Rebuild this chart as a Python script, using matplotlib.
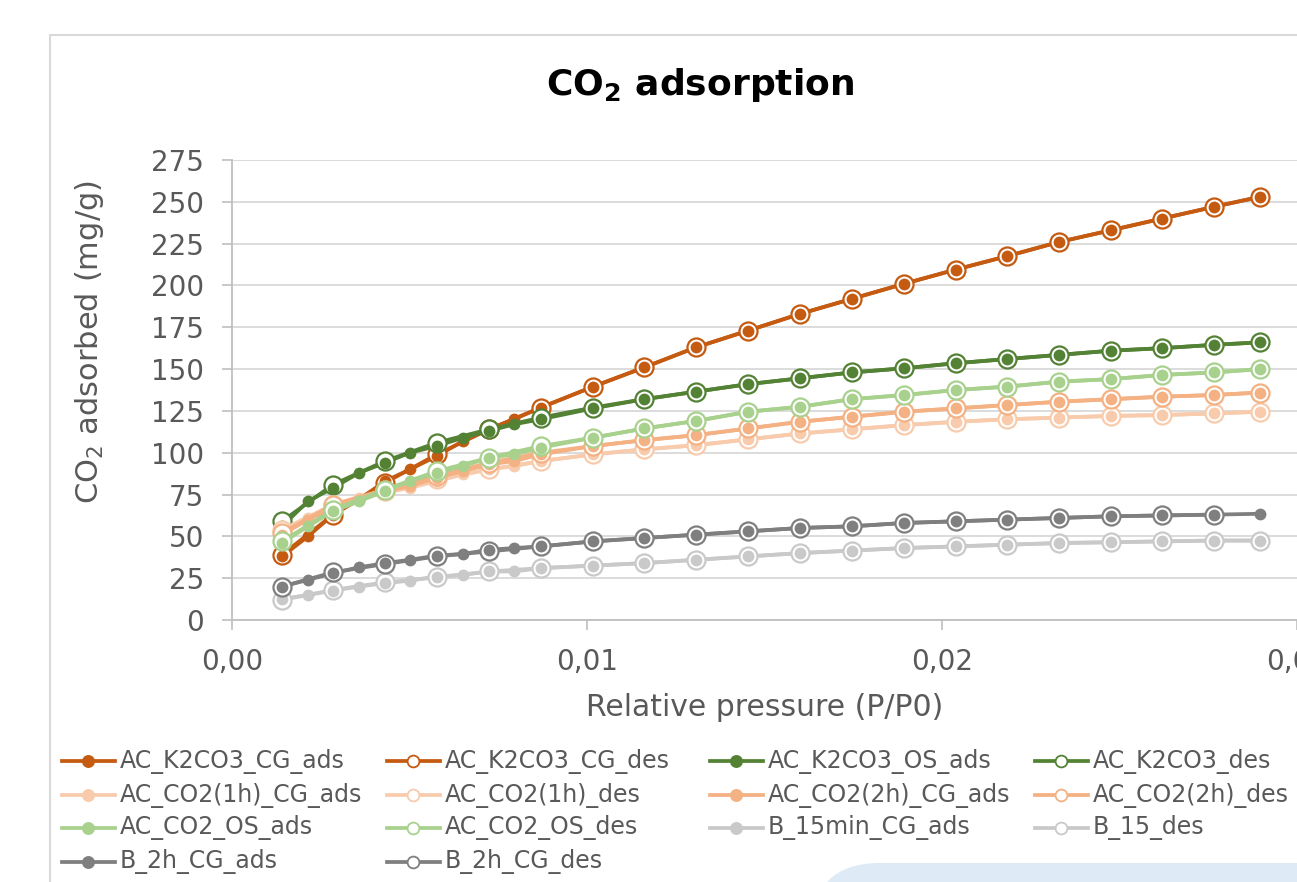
import matplotlib
matplotlib.use("Agg")
import matplotlib.pyplot as plt
from matplotlib.lines import Line2D
from matplotlib.patches import Rectangle, FancyBboxPatch
from matplotlib.ticker import FuncFormatter, MultipleLocator

W, H = 1297, 882
plt.rcParams['font.family'] = ['DejaVu Sans']

# relative pressure (P/P0)
x_ads = [0.00141, 0.00214, 0.00285, 0.00358, 0.00431, 0.00501, 0.00577, 0.00651, 0.00724,
         0.00794, 0.00870, 0.01017, 0.01161, 0.01307, 0.01454, 0.01600, 0.01746, 0.01893,
         0.02039, 0.02183, 0.02330, 0.02476, 0.02620, 0.02766, 0.02896]
x_des = [0.00141, 0.00285, 0.00431, 0.00577, 0.00724, 0.00870, 0.01017, 0.01161, 0.01307,
         0.01454, 0.01600, 0.01746, 0.01893, 0.02039, 0.02183, 0.02330, 0.02476, 0.02620,
         0.02766, 0.02896]

# CO2 adsorbed (mg/g)
k2co3_cg_ads = [38, 50, 63, 72, 83, 90, 98, 107, 114, 120, 127, 139.5, 151, 163, 173, 183,
                192, 201, 209.5, 217.5, 226, 233, 240, 247, 253]
k2co3_cg_des = [39, 63, 82, 99, 114, 127, 139.5, 151, 163, 173, 183, 192, 201, 209.5, 217.5,
                226, 233, 240, 247, 253]
k2co3_os_ads = [56, 71, 79, 88, 94, 100, 104, 109, 113, 117, 120, 126.5, 132, 136.5, 141,
                144.5, 148, 150.5, 153.5, 156, 158.5, 161, 162.5, 164.5, 166]
k2co3_os_des = [59, 81, 95, 106, 114, 121, 127, 132, 136.5, 141, 144.5, 148, 150.5, 153.5,
                156, 158.5, 161, 162.5, 164.5, 166]
co2_1h_ads = [53, 61, 68, 73, 76, 79, 83, 87, 90, 92, 95, 99, 102, 104.5, 108, 111.5, 114,
              116.5, 118.5, 120, 121, 122, 122.5, 123.5, 124.5]
co2_1h_des = [54, 69, 77, 84, 90, 95, 99, 102, 104.5, 108, 111.5, 114, 116.5, 118.5, 120,
              121, 122, 122.5, 123.5, 124.5]
co2_2h_ads = [51, 60, 67, 72, 77, 80, 85, 89, 93, 95, 99, 104, 107.5, 110.5, 114.5, 118.5,
              121.5, 124.5, 126.5, 128.5, 130.5, 132, 133.5, 134.5, 136]
co2_2h_des = [52, 69, 78, 86, 94, 100, 104, 107.5, 110.5, 114.5, 118.5, 121.5, 124.5, 126.5,
              128.5, 130.5, 132, 133.5, 134.5, 136]
co2_os_ads = [46, 56, 65, 71, 77, 83, 88, 92, 97, 99, 103, 109, 114.5, 119, 124.5, 127.5,
              132, 134.5, 137.5, 139.5, 142.5, 144, 146.5, 148, 150]
co2_os_des = [47, 66, 78, 89, 97, 104, 109, 114.5, 119, 124.5, 127.5, 132, 134.5, 137.5,
              139.5, 142.5, 144, 146.5, 148, 150]
b15_ads = [12.5, 15, 17.5, 20, 22, 23.5, 26, 27, 29, 29, 31, 32.5, 34, 36, 38, 40, 41.5, 43,
           44, 45, 46, 46.5, 47, 47.5, 47.5]
b15_des = [12, 18, 22.5, 25.5, 29, 31, 32.5, 34, 36, 38, 40, 41.5, 43, 44, 45, 46, 46.5, 47,
           47.5, 47.5]
b2h_ads = [20, 24, 28, 31.5, 34, 36, 38.5, 39.5, 42, 43, 44, 47, 49, 51, 53, 55, 56, 58, 59,
           60, 61, 62, 62.5, 63, 63.5]
b2h_des = [20, 28.5, 33.5, 38, 41, 44, 47, 49, 51, 53, 55, 56, 58, 59, 60, 61, 62, 62.5, 63]

series = [
    ("AC_K2CO3_CG_ads", "AC_K2CO3_CG_des", "#C55A11", k2co3_cg_ads, k2co3_cg_des),
    ("AC_K2CO3_OS_ads", "AC_K2CO3_des", "#548235", k2co3_os_ads, k2co3_os_des),
    ("AC_CO2(1h)_CG_ads", "AC_CO2(1h)_des", "#F8CBAD", co2_1h_ads, co2_1h_des),
    ("AC_CO2(2h)_CG_ads", "AC_CO2(2h)_des", "#F4B183", co2_2h_ads, co2_2h_des),
    ("AC_CO2_OS_ads", "AC_CO2_OS_des", "#A9D18E", co2_os_ads, co2_os_des),
    ("B_15min_CG_ads", "B_15_des", "#C9C9C9", b15_ads, b15_des),
    ("B_2h_CG_ads", "B_2h_CG_des", "#7F7F7F", b2h_ads, b2h_des),
]

grey_txt = "#595959"
fig = plt.figure(figsize=(W / 100, H / 100), dpi=100)

# chart area border and the blue shape peeking in at the bottom
fig.add_artist(Rectangle((50 / W, -0.1), 1.2, 1.1 - 35 / H, transform=fig.transFigure,
                         facecolor="white", edgecolor="#D9D9D9", lw=1.5, zorder=0))
fig.add_artist(FancyBboxPatch((812, -200), 800, 219, boxstyle="round,pad=0,rounding_size=68",
                              transform=None, facecolor="#DEEAF6", edgecolor="none", zorder=1))

ax = fig.add_axes([232 / W, 1 - 620 / H, (W - 232) / W, 460 / H])
ax.set_facecolor("none")

z = 2
for lab_a, lab_d, col, ya, yd in series:
    xd = x_des[:len(yd)]
    ax.plot(x_ads, ya, color=col, lw=2.7, zorder=z, solid_capstyle="round")
    ax.plot(xd, yd, color=col, lw=2.7, zorder=z + 0.1, solid_capstyle="round")
    ax.plot(xd, yd, ls="none", marker="o", ms=13, mfc="white", mec=col, mew=1.6, zorder=z + 0.2)
    ax.plot(x_ads, ya, ls="none", marker="o", ms=8.5, mfc=col, mec=col, mew=0, zorder=z + 0.3)
    z += 1

ax.set_xlim(0, 0.03)
ax.set_ylim(0, 275)
ax.xaxis.set_major_locator(MultipleLocator(0.01))
ax.yaxis.set_major_locator(MultipleLocator(25))
ax.xaxis.set_major_formatter(FuncFormatter(lambda v, p: f"{v:.2f}".replace(".", ",")))
ax.grid(axis="y", color="#D9D9D9", lw=1.3, zorder=0)
ax.set_axisbelow(True)
for s in ["top", "right"]:
    ax.spines[s].set_visible(False)
for s in ["left", "bottom"]:
    ax.spines[s].set_color("#BFBFBF")
    ax.spines[s].set_linewidth(1.3)
ax.tick_params(axis="both", colors="#BFBFBF", labelcolor=grey_txt, labelsize=20, length=7,
               width=1.2)
ax.tick_params(axis="y", pad=13)
ax.tick_params(axis="x", pad=13)

fig.text(700 / W, 1 - 85 / H, r"CO$_\mathregular{2}$ adsorption", ha="center", va="center",
         fontsize=26, fontweight="bold", color="black")
fig.text(765 / W, 1 - 707 / H, "Relative pressure (P/P0)", ha="center", va="center",
         fontsize=21.5, color=grey_txt)
fig.text(90 / W, 1 - 342 / H, r"CO$_\mathregular{2}$ adsorbed (mg/g)", ha="center", va="center",
         rotation=90, fontsize=22, color=grey_txt)

# legend, laid out like the spreadsheet one
col_x = [62, 387, 710, 1035]
row_y = [761, 795, 828, 862]
entries = []
for lab_a, lab_d, col, ya, yd in series:
    entries.append((lab_a, col, True))
    entries.append((lab_d, col, False))
for i, (lab, col, filled) in enumerate(entries):
    cx = col_x[i % 4]
    cy = 1 - row_y[i // 4] / H
    xs = [cx / W, (cx + 26) / W, (cx + 53) / W]
    fig.add_artist(Line2D(xs, [cy] * 3, transform=fig.transFigure, color=col, lw=2.7,
                          marker="o", markevery=[1], ms=8 if filled else 8.5,
                          mfc=col if filled else "white", mec=col, mew=1.3))
    fig.text((cx + 58) / W, cy, lab, ha="left", va="center", fontsize=17, color=grey_txt)

fig.savefig("out.png", dpi=100)
